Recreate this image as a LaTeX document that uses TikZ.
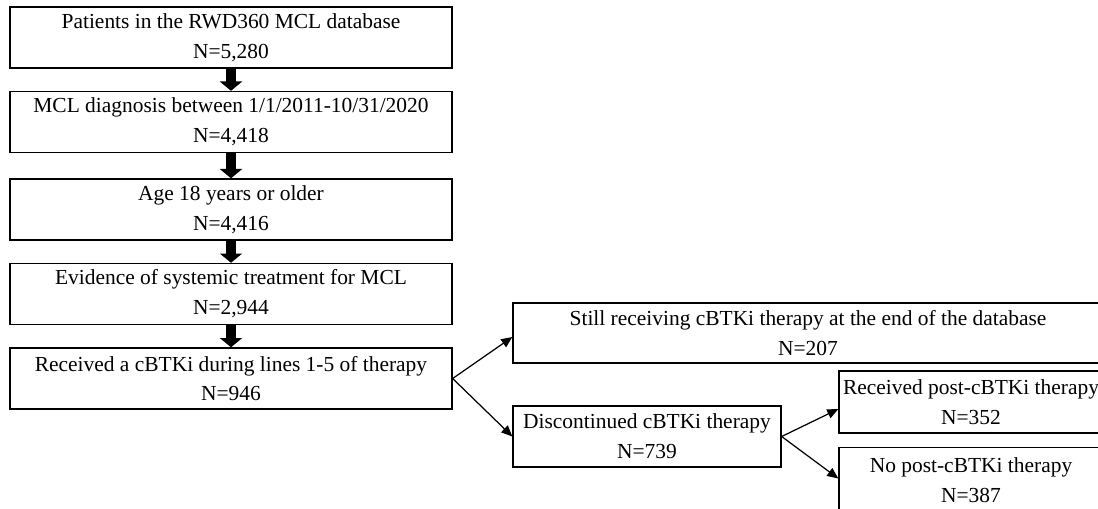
\documentclass[tikz,border=0pt]{standalone}
\usepackage{fontspec}
\setmainfont{Liberation Serif}
\usetikzlibrary{arrows.meta}
\begin{document}
\begin{tikzpicture}[x=0.02cm,y=-0.02cm,
  box/.style={draw, line width=0.8pt, inner sep=0pt, align=center,
    font=\fontsize{12.2}{17}\selectfont, minimum height=1.22cm},
  mainbox/.style={box, minimum width=8.84cm},
  fat/.style={line width=5.7pt, -{Triangle[width=12.5pt,length=5.3pt]}},
  thin/.style={line width=0.7pt, -{Triangle[width=5.4pt,length=6.3pt]}}]
\useasboundingbox (0,0) rectangle (1098,508);
\clip (0,0) rectangle (1098,508);
\node[mainbox] (b1) at (231,37.5) {Patients in the RWD360 MCL database\\N=5,280};
\node[mainbox] (b2) at (231,122) {MCL diagnosis between 1/1/2011-10/31/2020\\N=4,418};
\node[mainbox] (b3) at (231,209.5) {Age 18 years or older\\N=4,416};
\node[mainbox] (b4) at (231,294) {Evidence of systemic treatment for MCL\\N=2,944};
\node[mainbox] (b5) at (231,378.5) {Received a cBTKi during lines 1-5 of therapy\\N=946};
\node[box, minimum width=11.8cm, minimum height=1.2cm] (still) at (808,333) {Still receiving cBTKi therapy at the end of the database\\N=207};
\node[box, minimum width=5.36cm] (disc) at (647,436.5) {Discontinued cBTKi therapy\\N=739};
\node[box, minimum width=5.28cm, minimum height=1.24cm] (rec) at (971,402) {Received post-cBTKi therapy\\N=352};
\node[box, minimum width=5.28cm, minimum height=1.3cm] (nopost) at (971,480) {No post-cBTKi therapy\\N=387};
\draw[fat] (b1.south) -- (b2.north);
\draw[fat] (b2.south) -- (b3.north);
\draw[fat] (b3.south) -- (b4.north);
\draw[fat] (b4.south) -- (b5.north);
\draw[thin] (b5.east) -- ([yshift=-0.08cm]still.west);
\draw[thin] (b5.east) -- (disc.west);
\draw[thin] (disc.east) -- ([yshift=-0.14cm]rec.west);
\draw[thin] (disc.east) -- ([yshift=0.03cm]nopost.west);
\end{tikzpicture}
\end{document}
